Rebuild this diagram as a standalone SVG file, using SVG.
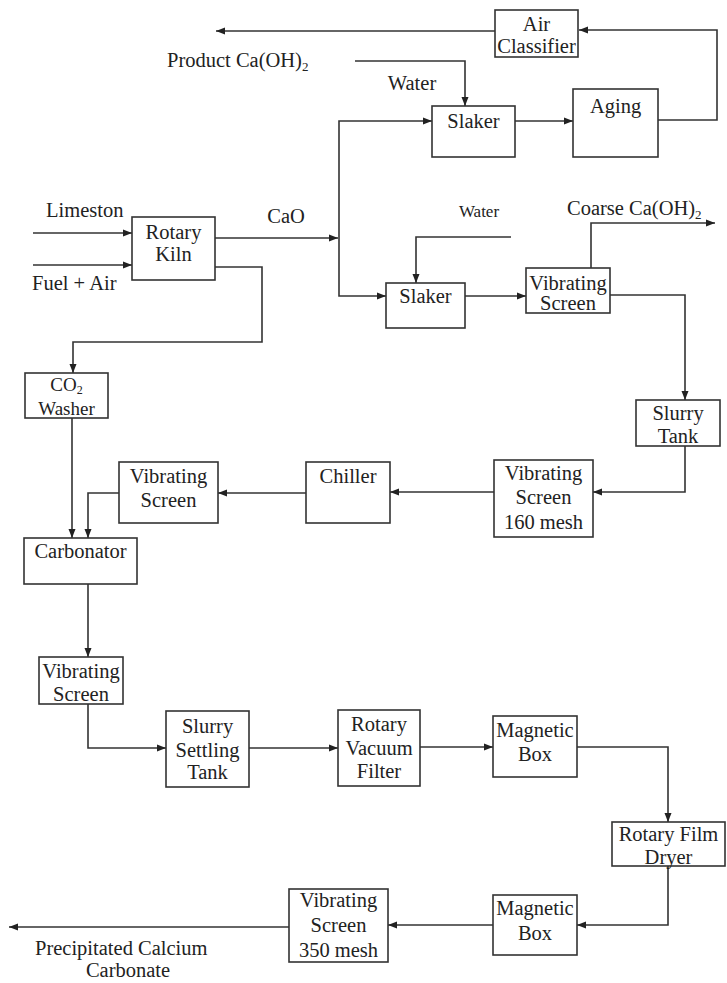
<svg xmlns="http://www.w3.org/2000/svg" width="727" height="983" viewBox="0 0 727 983">
<style>
.box{fill:#fff;stroke:#333;stroke-width:1.6}
.c{fill:none;stroke:#333;stroke-width:1.6;marker-end:url(#ah)}
text{font-family:"Liberation Serif","Times New Roman",serif;font-size:20.5px;fill:#222}
.m{text-anchor:middle}
.sub{font-size:13px}
</style>
<defs>
<marker id="ah" markerUnits="userSpaceOnUse" markerWidth="10" markerHeight="8" refX="9" refY="4" orient="auto">
<path d="M0,0.5 L9,4 L0,7.5 z" fill="#222"/>
</marker>
</defs>
<rect width="727" height="983" fill="#fff"/>
<g id="connectors">
<path class="c" d="M495,31 H216"/>
<path class="c" d="M658,120 H717 V30 H579"/>
<path class="c" d="M355,61 H465 V106"/>
<path class="c" d="M33,233 H132"/>
<path class="c" d="M33,265 H132"/>
<path class="c" d="M215,238 H338"/>
<path class="c" d="M339,238 V121 H432"/>
<path class="c" d="M339,238 V296 H386"/>
<path class="c" d="M515,121 H573"/>
<path class="c" d="M511,237 H416 V283"/>
<path class="c" d="M465,296 H526"/>
<path class="c" d="M591,268 V223 H715"/>
<path class="c" d="M610,295 H685 V400"/>
<path class="c" d="M685,446 V492 H593"/>
<path class="c" d="M494,492 H390"/>
<path class="c" d="M306,493 H218"/>
<path class="c" d="M119,493 H88 V538"/>
<path class="c" d="M215,267 H262 V342 H73 V373"/>
<path class="c" d="M72,418 V538"/>
<path class="c" d="M88,584 V657"/>
<path class="c" d="M88,704 V748 H166"/>
<path class="c" d="M249,748 H338"/>
<path class="c" d="M420,747 H493"/>
<path class="c" d="M577,747 H668 V822"/>
<path class="c" d="M668,866 V925 H577"/>
<path class="c" d="M493,925 H388"/>
<path class="c" d="M290,927 H9"/>
</g>
<g id="labels">
<text x="167" y="67">Product Ca(OH)<tspan class="sub" dy="4">2</tspan></text>
<text class="m" x="412" y="90">Water</text>
<text x="46" y="217">Limeston</text>
<text class="m" x="286" y="223">CaO</text>
<text x="32" y="290">Fuel + Air</text>
<text class="m" x="479" y="217" style="font-size:17px">Water</text>
<text x="567" y="215">Coarse Ca(OH)<tspan class="sub" dy="4">2</tspan></text>
<text x="35" y="955">Precipitated Calcium</text>
<text class="m" x="128" y="977">Carbonate</text>
</g>
<g id="air-classifier"><rect class="box" x="495" y="10" width="83" height="47"/><text class="m" x="536.5" y="31">Air</text><text class="m" x="536.5" y="53">Classifier</text></g>
<g id="slaker-1"><rect class="box" x="432" y="106" width="83" height="51"/><text class="m" x="473.5" y="128">Slaker</text></g>
<g id="aging"><rect class="box" x="573" y="89" width="85" height="68"/><text class="m" x="615.5" y="113">Aging</text></g>
<g id="rotary-kiln"><rect class="box" x="132" y="217" width="83" height="63"/><text class="m" x="173.5" y="239">Rotary</text><text class="m" x="173.5" y="261">Kiln</text></g>
<g id="slaker-2"><rect class="box" x="386" y="283" width="79" height="45"/><text class="m" x="425.5" y="303">Slaker</text></g>
<g id="vibrating-screen-1"><rect class="box" x="526" y="268" width="84" height="45"/><text class="m" x="568" y="290">Vibrating</text><text class="m" x="568" y="310">Screen</text></g>
<g id="slurry-tank"><rect class="box" x="636" y="400" width="84" height="46"/><text class="m" x="678" y="420">Slurry</text><text class="m" x="678" y="443">Tank</text></g>
<g id="vibrating-screen-160"><rect class="box" x="494" y="460" width="99" height="77"/><text class="m" x="543.5" y="480">Vibrating</text><text class="m" x="543.5" y="504">Screen</text><text class="m" x="543.5" y="529">160 mesh</text></g>
<g id="chiller"><rect class="box" x="306" y="462" width="84" height="61"/><text class="m" x="348" y="483">Chiller</text></g>
<g id="vibrating-screen-2"><rect class="box" x="119" y="462" width="99" height="61"/><text class="m" x="168.5" y="483">Vibrating</text><text class="m" x="168.5" y="507">Screen</text></g>
<g id="co2-washer"><rect class="box" x="25" y="373" width="83" height="45"/><text class="m" x="66.5" y="391" style="font-size:19px">CO<tspan style="font-size:12px" dy="3">2</tspan></text><text class="m" x="66.5" y="415" style="font-size:19px">Washer</text></g>
<g id="carbonator"><rect class="box" x="24" y="538" width="113" height="46"/><text class="m" x="80.5" y="558">Carbonator</text></g>
<g id="vibrating-screen-3"><rect class="box" x="39" y="657" width="84" height="47"/><text class="m" x="81" y="678">Vibrating</text><text class="m" x="81" y="701">Screen</text></g>
<g id="slurry-settling-tank"><rect class="box" x="166" y="711" width="83" height="76"/><text class="m" x="207.5" y="733">Slurry</text><text class="m" x="207.5" y="757">Settling</text><text class="m" x="207.5" y="779">Tank</text></g>
<g id="rotary-vacuum-filter"><rect class="box" x="338" y="710" width="82" height="76"/><text class="m" x="379" y="731">Rotary</text><text class="m" x="379" y="755">Vacuum</text><text class="m" x="379" y="778">Filter</text></g>
<g id="magnetic-box-1"><rect class="box" x="493" y="716" width="84" height="61"/><text class="m" x="535" y="737">Magnetic</text><text class="m" x="535" y="761">Box</text></g>
<g id="rotary-film-dryer"><rect class="box" x="612" y="822" width="113" height="44"/><text class="m" x="668.5" y="841">Rotary Film</text><text class="m" x="668.5" y="864">Dryer</text></g>
<g id="magnetic-box-2"><rect class="box" x="493" y="895" width="84" height="60"/><text class="m" x="535" y="915">Magnetic</text><text class="m" x="535" y="940">Box</text></g>
<g id="vibrating-screen-350"><rect class="box" x="289" y="889" width="99" height="73"/><text class="m" x="338.5" y="907">Vibrating</text><text class="m" x="338.5" y="932">Screen</text><text class="m" x="338.5" y="957">350 mesh</text></g>
</svg>
